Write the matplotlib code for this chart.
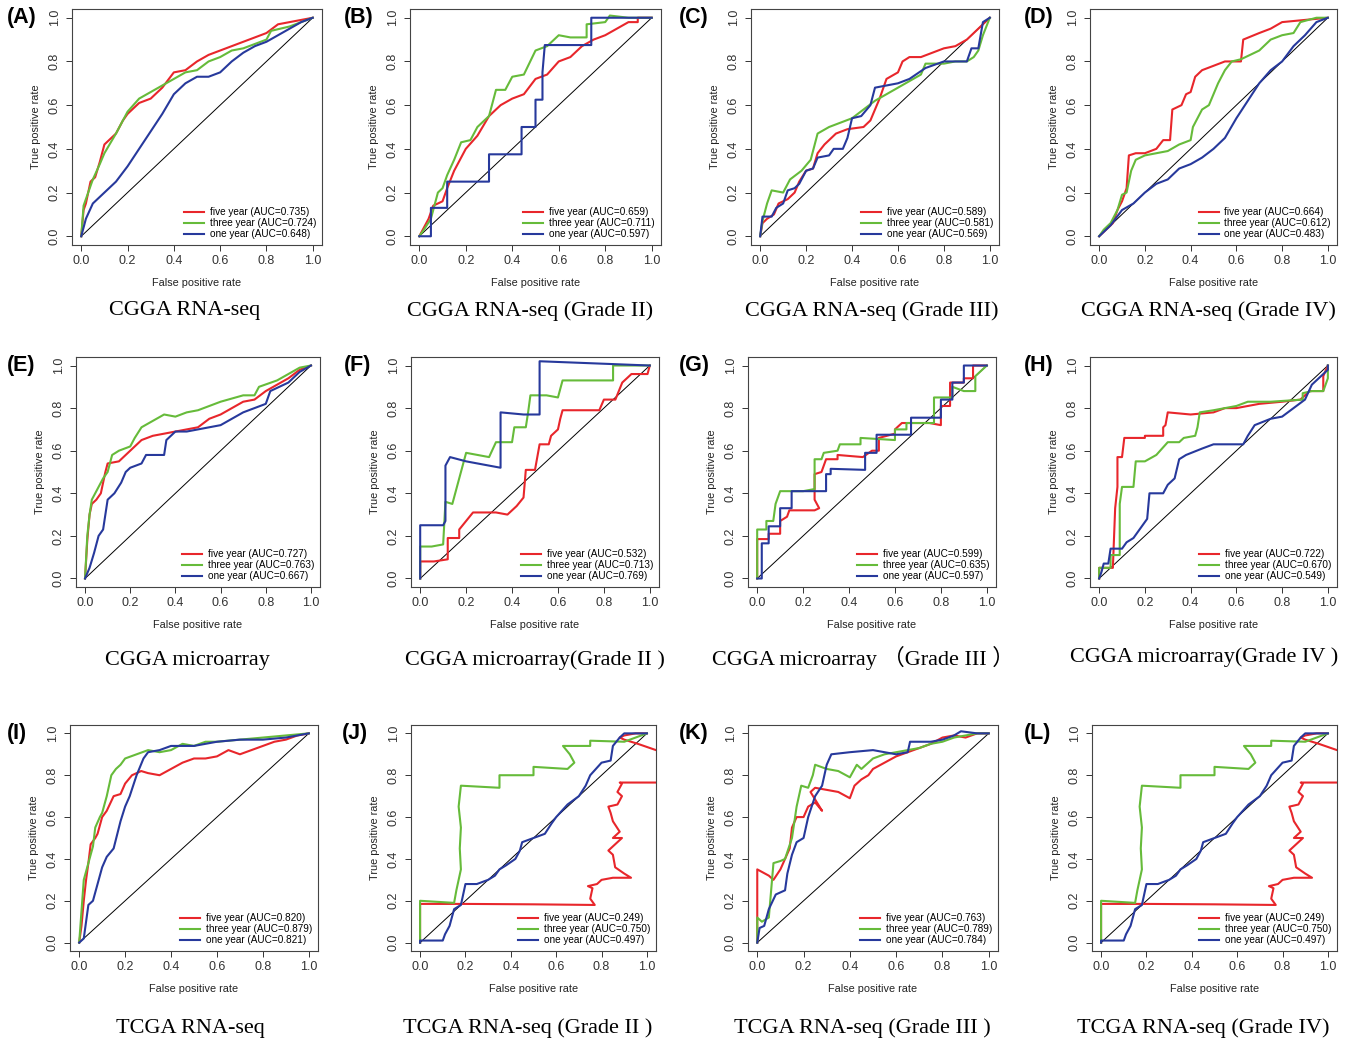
import matplotlib
matplotlib.use("Agg")
import matplotlib.pyplot as plt

# ROC curves, (fpr, tpr) points
A_FIVE = [(0,0),(0.01,0.12),(0.02,0.15),(0.04,0.25),(0.06,0.27),(0.08,0.34),(0.1,0.42),(0.12,0.44),(0.15,0.47),(0.18,0.53),(0.2,0.56),(0.25,0.61),(0.3,0.63),(0.35,0.68),(0.4,0.75),(0.45,0.76),(0.5,0.8),(0.55,0.83),(0.6,0.85),(0.65,0.87),(0.7,0.89),(0.75,0.91),(0.8,0.93),(0.85,0.97),(0.9,0.98),(0.95,0.99),(1,1)]
A_THREE = [(0,0),(0.01,0.14),(0.03,0.2),(0.05,0.26),(0.08,0.33),(0.1,0.38),(0.15,0.47),(0.2,0.57),(0.25,0.63),(0.3,0.66),(0.35,0.69),(0.4,0.72),(0.45,0.75),(0.5,0.76),(0.55,0.8),(0.6,0.82),(0.65,0.85),(0.7,0.86),(0.75,0.88),(0.8,0.9),(0.82,0.94),(0.9,0.96),(1,1)]
A_ONE = [(0,0),(0.02,0.08),(0.05,0.15),(0.08,0.18),(0.1,0.2),(0.15,0.25),(0.2,0.32),(0.25,0.4),(0.3,0.48),(0.35,0.56),(0.4,0.65),(0.45,0.7),(0.5,0.73),(0.55,0.73),(0.6,0.75),(0.65,0.8),(0.7,0.84),(0.75,0.87),(0.8,0.89),(0.85,0.92),(0.9,0.95),(0.95,0.98),(1,1)]

B_FIVE = [(0,0),(0.02,0.04),(0.04,0.08),(0.06,0.14),(0.1,0.16),(0.12,0.22),(0.15,0.3),(0.2,0.4),(0.25,0.46),(0.3,0.55),(0.35,0.6),(0.4,0.63),(0.45,0.65),(0.5,0.72),(0.55,0.74),(0.6,0.8),(0.65,0.82),(0.7,0.87),(0.75,0.9),(0.8,0.92),(0.85,0.95),(0.9,0.98),(0.94,0.98),(0.94,1.0),(1,1)]
B_THREE = [(0,0),(0.02,0.03),(0.05,0.08),(0.08,0.2),(0.1,0.22),(0.12,0.28),(0.15,0.35),(0.18,0.43),(0.22,0.44),(0.25,0.5),(0.3,0.55),(0.33,0.67),(0.37,0.67),(0.4,0.73),(0.45,0.74),(0.5,0.85),(0.55,0.87),(0.6,0.92),(0.65,0.91),(0.72,0.91),(0.72,0.97),(0.8,0.98),(0.82,1.01),(0.9,1.0),(1,1)]
B_ONE = [(0,0),(0.05,0),(0.05,0.13),(0.12,0.13),(0.12,0.25),(0.3,0.25),(0.3,0.375),(0.44,0.375),(0.44,0.5),(0.5,0.5),(0.5,0.625),(0.53,0.625),(0.53,0.75),(0.54,0.875),(0.74,0.875),(0.74,1.0),(1,1)]

C_FIVE = [(0,0),(0.01,0.06),(0.03,0.08),(0.06,0.1),(0.08,0.15),(0.12,0.17),(0.15,0.2),(0.17,0.25),(0.2,0.3),(0.23,0.31),(0.25,0.38),(0.28,0.42),(0.3,0.44),(0.33,0.47),(0.38,0.49),(0.45,0.5),(0.48,0.53),(0.5,0.58),(0.52,0.63),(0.55,0.72),(0.6,0.75),(0.62,0.8),(0.65,0.82),(0.7,0.82),(0.75,0.84),(0.8,0.86),(0.85,0.87),(0.9,0.9),(0.95,0.95),(0.98,0.98),(1,1)]
C_THREE = [(0,0),(0.01,0.07),(0.03,0.15),(0.05,0.21),(0.1,0.2),(0.13,0.26),(0.18,0.3),(0.22,0.35),(0.25,0.47),(0.3,0.5),(0.35,0.52),(0.4,0.54),(0.45,0.58),(0.5,0.62),(0.55,0.65),(0.6,0.68),(0.65,0.71),(0.7,0.74),(0.72,0.79),(0.8,0.79),(0.85,0.8),(0.9,0.8),(0.93,0.82),(0.95,0.85),(0.97,0.92),(1,1)]
C_ONE = [(0,0),(0.01,0.09),(0.05,0.09),(0.07,0.13),(0.1,0.15),(0.12,0.21),(0.15,0.22),(0.17,0.24),(0.2,0.3),(0.23,0.31),(0.25,0.36),(0.3,0.37),(0.32,0.4),(0.36,0.4),(0.38,0.45),(0.4,0.54),(0.44,0.55),(0.48,0.6),(0.5,0.68),(0.55,0.69),(0.6,0.7),(0.65,0.72),(0.72,0.77),(0.8,0.8),(0.9,0.8),(0.92,0.86),(0.95,0.86),(0.97,0.98),(1,1)]

D_FIVE = [(0,0),(0.03,0.03),(0.06,0.06),(0.08,0.12),(0.1,0.16),(0.12,0.22),(0.13,0.37),(0.16,0.38),(0.2,0.38),(0.25,0.4),(0.28,0.44),(0.31,0.44),(0.32,0.58),(0.36,0.6),(0.38,0.65),(0.4,0.66),(0.42,0.73),(0.45,0.76),(0.5,0.78),(0.55,0.8),(0.62,0.8),(0.63,0.9),(0.7,0.93),(0.75,0.95),(0.8,0.98),(0.9,0.99),(1,1)]
D_THREE = [(0,0),(0.02,0.03),(0.05,0.06),(0.08,0.12),(0.1,0.19),(0.12,0.2),(0.14,0.3),(0.16,0.35),(0.2,0.37),(0.25,0.38),(0.3,0.39),(0.35,0.42),(0.4,0.44),(0.41,0.5),(0.45,0.58),(0.48,0.6),(0.5,0.65),(0.52,0.7),(0.55,0.76),(0.58,0.8),(0.62,0.81),(0.7,0.85),(0.75,0.9),(0.8,0.92),(0.85,0.93),(0.88,0.98),(0.95,1.0),(1,1)]
D_ONE = [(0,0),(0.05,0.05),(0.1,0.12),(0.15,0.15),(0.2,0.2),(0.25,0.24),(0.3,0.26),(0.35,0.31),(0.4,0.33),(0.45,0.36),(0.5,0.4),(0.55,0.45),(0.6,0.54),(0.65,0.62),(0.7,0.7),(0.75,0.76),(0.8,0.8),(0.85,0.87),(0.9,0.92),(0.95,0.98),(1,1)]

E_FIVE = [(0,0),(0.01,0.18),(0.02,0.3),(0.03,0.35),(0.05,0.37),(0.07,0.4),(0.09,0.5),(0.1,0.54),(0.15,0.55),(0.2,0.6),(0.25,0.65),(0.3,0.67),(0.35,0.68),(0.4,0.69),(0.5,0.71),(0.55,0.75),(0.6,0.77),(0.65,0.8),(0.7,0.83),(0.75,0.84),(0.8,0.88),(0.85,0.91),(0.9,0.94),(0.95,0.98),(1,1)]
E_THREE = [(0,0),(0.01,0.2),(0.02,0.3),(0.03,0.37),(0.05,0.41),(0.08,0.47),(0.1,0.5),(0.12,0.58),(0.15,0.6),(0.2,0.62),(0.22,0.66),(0.25,0.71),(0.3,0.74),(0.35,0.77),(0.4,0.76),(0.45,0.78),(0.5,0.79),(0.55,0.81),(0.6,0.83),(0.7,0.86),(0.75,0.86),(0.77,0.9),(0.85,0.93),(0.9,0.96),(0.95,0.99),(1,1)]
E_ONE = [(0,0),(0.02,0.05),(0.04,0.12),(0.06,0.2),(0.08,0.23),(0.1,0.37),(0.13,0.4),(0.16,0.45),(0.18,0.5),(0.2,0.52),(0.25,0.54),(0.27,0.58),(0.35,0.58),(0.36,0.65),(0.4,0.69),(0.45,0.69),(0.5,0.7),(0.6,0.72),(0.7,0.78),(0.8,0.82),(0.82,0.88),(0.9,0.92),(0.95,0.97),(1,1)]

F_FIVE = [(0,0),(0,0.08),(0.06,0.08),(0.12,0.09),(0.12,0.19),(0.17,0.19),(0.17,0.23),(0.2,0.27),(0.23,0.31),(0.33,0.31),(0.38,0.3),(0.42,0.34),(0.45,0.38),(0.46,0.51),(0.5,0.51),(0.52,0.63),(0.56,0.63),(0.57,0.67),(0.6,0.7),(0.61,0.75),(0.62,0.79),(0.78,0.79),(0.8,0.84),(0.85,0.84),(0.88,0.92),(0.92,0.96),(0.99,0.96),(1,1)]
F_THREE = [(0,0),(0,0.15),(0.05,0.15),(0.1,0.16),(0.11,0.36),(0.14,0.35),(0.16,0.43),(0.18,0.51),(0.2,0.59),(0.3,0.57),(0.33,0.64),(0.4,0.64),(0.41,0.71),(0.46,0.71),(0.47,0.78),(0.48,0.86),(0.55,0.86),(0.6,0.85),(0.62,0.93),(0.84,0.93),(0.84,1.0),(1,1)]
F_ONE = [(0,0),(0,0.25),(0.1,0.25),(0.11,0.27),(0.11,0.53),(0.13,0.57),(0.2,0.55),(0.3,0.53),(0.35,0.52),(0.35,0.78),(0.45,0.77),(0.52,0.77),(0.52,1.02),(1,1)]

G_FIVE = [(0,0),(0,0.185),(0.05,0.185),(0.05,0.21),(0.1,0.21),(0.1,0.27),(0.13,0.29),(0.14,0.32),(0.25,0.32),(0.27,0.33),(0.25,0.37),(0.25,0.49),(0.28,0.5),(0.3,0.56),(0.35,0.56),(0.35,0.58),(0.46,0.57),(0.5,0.6),(0.53,0.6),(0.53,0.66),(0.6,0.68),(0.6,0.7),(0.63,0.73),(0.75,0.73),(0.8,0.72),(0.8,0.81),(0.84,0.81),(0.84,0.92),(0.9,0.92),(0.9,0.94),(0.94,0.94),(0.94,1.0),(1,1)]
G_THREE = [(0,0),(0,0.23),(0.04,0.23),(0.04,0.27),(0.07,0.27),(0.08,0.35),(0.1,0.41),(0.2,0.41),(0.25,0.42),(0.25,0.56),(0.28,0.56),(0.29,0.59),(0.35,0.6),(0.36,0.63),(0.45,0.63),(0.45,0.66),(0.6,0.65),(0.6,0.7),(0.65,0.7),(0.65,0.73),(0.77,0.73),(0.77,0.85),(0.85,0.85),(0.85,0.9),(0.9,0.88),(0.95,0.88),(0.95,0.95),(1,1)]
G_ONE = [(0,0),(0.02,0),(0.02,0.165),(0.05,0.165),(0.05,0.245),(0.1,0.245),(0.1,0.33),(0.15,0.33),(0.15,0.41),(0.3,0.41),(0.3,0.49),(0.32,0.49),(0.32,0.515),(0.47,0.51),(0.47,0.59),(0.52,0.59),(0.52,0.675),(0.67,0.675),(0.67,0.755),(0.8,0.755),(0.8,0.84),(0.85,0.84),(0.85,0.92),(0.9,0.92),(0.9,1.0),(1,1)]

H_FIVE = [(0,0),(0,0.05),(0.06,0.05),(0.07,0.33),(0.08,0.43),(0.08,0.57),(0.1,0.57),(0.11,0.66),(0.2,0.66),(0.2,0.67),(0.28,0.67),(0.28,0.71),(0.29,0.72),(0.3,0.78),(0.4,0.77),(0.5,0.78),(0.55,0.8),(0.6,0.8),(0.7,0.82),(0.8,0.83),(0.88,0.84),(0.92,0.88),(0.98,0.88),(0.98,0.95),(1,1)]
H_THREE = [(0,0),(0,0.05),(0.05,0.05),(0.05,0.11),(0.09,0.11),(0.09,0.35),(0.1,0.43),(0.15,0.43),(0.16,0.55),(0.2,0.55),(0.25,0.58),(0.3,0.64),(0.35,0.64),(0.37,0.66),(0.42,0.67),(0.43,0.71),(0.44,0.78),(0.5,0.79),(0.6,0.81),(0.65,0.83),(0.75,0.83),(0.89,0.84),(0.89,0.87),(0.93,0.88),(0.98,0.88),(1,0.94),(1,1)]
H_ONE = [(0,0),(0.01,0.03),(0.02,0.07),(0.04,0.07),(0.05,0.14),(0.1,0.14),(0.12,0.17),(0.15,0.19),(0.17,0.22),(0.19,0.25),(0.21,0.28),(0.22,0.4),(0.28,0.4),(0.3,0.44),(0.33,0.47),(0.35,0.56),(0.38,0.58),(0.45,0.61),(0.5,0.63),(0.63,0.63),(0.65,0.67),(0.68,0.72),(0.75,0.75),(0.8,0.76),(0.85,0.8),(0.9,0.84),(0.93,0.91),(0.97,0.95),(1,0.98),(1,1)]

I_FIVE = [(0,0),(0.01,0.08),(0.02,0.2),(0.03,0.3),(0.04,0.38),(0.05,0.47),(0.07,0.5),(0.08,0.52),(0.1,0.6),(0.12,0.63),(0.15,0.7),(0.18,0.71),(0.2,0.76),(0.23,0.8),(0.27,0.82),(0.3,0.81),(0.35,0.8),(0.4,0.83),(0.45,0.86),(0.5,0.88),(0.55,0.88),(0.6,0.89),(0.65,0.92),(0.7,0.9),(0.75,0.92),(0.8,0.94),(0.85,0.96),(0.9,0.97),(0.95,0.99),(1,1)]
I_THREE = [(0,0),(0.01,0.15),(0.02,0.3),(0.04,0.38),(0.06,0.46),(0.07,0.55),(0.09,0.6),(0.1,0.62),(0.12,0.7),(0.14,0.8),(0.16,0.83),(0.18,0.85),(0.2,0.88),(0.25,0.9),(0.3,0.92),(0.35,0.91),(0.4,0.92),(0.45,0.95),(0.5,0.94),(0.55,0.96),(0.6,0.96),(0.7,0.97),(0.8,0.98),(0.9,0.99),(1,1)]
I_ONE = [(0,0),(0.02,0.02),(0.03,0.1),(0.04,0.18),(0.06,0.2),(0.08,0.28),(0.1,0.36),(0.12,0.41),(0.15,0.45),(0.18,0.58),(0.2,0.65),(0.22,0.7),(0.25,0.8),(0.28,0.88),(0.3,0.91),(0.35,0.92),(0.4,0.94),(0.5,0.94),(0.6,0.96),(0.7,0.97),(0.8,0.97),(0.9,0.98),(1,1)]

# grade II and grade IV of TCGA show the same curves
J_FIVE = [(0,0),(0,0.185),(0.2,0.185),(0.5,0.183),(0.77,0.18),(0.75,0.21),(0.76,0.26),(0.74,0.27),(0.78,0.28),(0.8,0.3),(0.85,0.31),(0.93,0.31),(0.9,0.33),(0.86,0.36),(0.85,0.42),(0.83,0.44),(0.86,0.47),(0.89,0.5),(0.85,0.5),(0.88,0.53),(0.85,0.58),(0.84,0.62),(0.83,0.65),(0.87,0.66),(0.89,0.7),(0.87,0.72),(0.89,0.76),(0.88,0.765),(1.2,0.765),(1.2,0.9),(1.04,0.92),(0.96,0.95),(0.9,0.97),(0.88,0.98),(0.9,0.99),(0.95,1.0),(1,1)]
J_THREE = [(0,0),(0,0.2),(0.15,0.19),(0.16,0.25),(0.17,0.3),(0.18,0.35),(0.175,0.45),(0.18,0.55),(0.17,0.65),(0.18,0.75),(0.35,0.74),(0.35,0.8),(0.5,0.8),(0.5,0.84),(0.65,0.83),(0.68,0.86),(0.66,0.9),(0.63,0.94),(0.75,0.94),(0.75,0.965),(0.9,0.96),(0.95,0.98),(1,1)]
J_ONE = [(0,0),(0,0.01),(0.1,0.01),(0.11,0.04),(0.13,0.08),(0.14,0.12),(0.15,0.16),(0.18,0.18),(0.2,0.28),(0.25,0.28),(0.3,0.3),(0.33,0.32),(0.35,0.35),(0.38,0.37),(0.42,0.4),(0.44,0.44),(0.45,0.48),(0.5,0.5),(0.55,0.52),(0.58,0.57),(0.6,0.6),(0.65,0.66),(0.7,0.7),(0.73,0.75),(0.75,0.8),(0.8,0.86),(0.84,0.87),(0.85,0.94),(0.88,0.98),(0.9,1.0),(1,1)]

K_FIVE = [(0,0),(0,0.35),(0.05,0.32),(0.07,0.3),(0.1,0.35),(0.12,0.4),(0.14,0.45),(0.15,0.55),(0.17,0.6),(0.2,0.6),(0.22,0.65),(0.25,0.67),(0.28,0.63),(0.23,0.72),(0.25,0.74),(0.3,0.73),(0.35,0.72),(0.4,0.69),(0.42,0.75),(0.45,0.78),(0.48,0.8),(0.5,0.83),(0.55,0.86),(0.6,0.89),(0.65,0.91),(0.7,0.93),(0.75,0.95),(0.8,0.98),(0.85,0.99),(0.9,0.98),(0.95,1.0),(1,1)]
K_THREE = [(0,0),(0,0.12),(0.02,0.1),(0.05,0.12),(0.06,0.25),(0.07,0.38),(0.1,0.39),(0.12,0.4),(0.15,0.5),(0.17,0.65),(0.19,0.75),(0.22,0.74),(0.24,0.8),(0.25,0.85),(0.3,0.83),(0.35,0.82),(0.4,0.79),(0.43,0.85),(0.45,0.83),(0.5,0.88),(0.55,0.9),(0.6,0.91),(0.7,0.93),(0.75,0.95),(0.8,0.96),(0.85,0.98),(0.9,0.99),(0.95,1.0),(1,1)]
K_ONE = [(0,0),(0.01,0.07),(0.03,0.08),(0.05,0.16),(0.08,0.23),(0.12,0.25),(0.13,0.33),(0.15,0.42),(0.17,0.48),(0.2,0.5),(0.22,0.6),(0.25,0.7),(0.28,0.75),(0.3,0.85),(0.32,0.9),(0.4,0.91),(0.5,0.92),(0.6,0.9),(0.65,0.91),(0.66,0.96),(0.75,0.96),(0.8,0.97),(0.85,0.99),(0.88,1.01),(0.95,1.0),(1,1)]

letters = ["A", "B", "C", "D", "E", "F", "G", "H", "I", "J", "K", "L"]
titles = ["CGGA RNA-seq", "CGGA RNA-seq (Grade II)", "CGGA RNA-seq (Grade III)", "CGGA RNA-seq (Grade IV)",
          "CGGA microarray", "CGGA microarray(Grade II )", "CGGA microarray \uff08Grade III \uff09", "CGGA microarray(Grade IV )",
          "TCGA RNA-seq", "TCGA RNA-seq (Grade II )", "TCGA RNA-seq (Grade III )", "TCGA RNA-seq (Grade IV)"]
auc_five = [0.735, 0.659, 0.589, 0.664, 0.727, 0.532, 0.599, 0.722, 0.820, 0.249, 0.763, 0.249]
auc_three = [0.724, 0.711, 0.581, 0.612, 0.763, 0.713, 0.635, 0.670, 0.879, 0.750, 0.789, 0.750]
auc_one = [0.648, 0.597, 0.569, 0.483, 0.667, 0.769, 0.597, 0.549, 0.821, 0.497, 0.784, 0.497]
five_curves = [A_FIVE, B_FIVE, C_FIVE, D_FIVE, E_FIVE, F_FIVE, G_FIVE, H_FIVE, I_FIVE, J_FIVE, K_FIVE, J_FIVE]
three_curves = [A_THREE, B_THREE, C_THREE, D_THREE, E_THREE, F_THREE, G_THREE, H_THREE, I_THREE, J_THREE, K_THREE, J_THREE]
one_curves = [A_ONE, B_ONE, C_ONE, D_ONE, E_ONE, F_ONE, G_ONE, H_ONE, I_ONE, J_ONE, K_ONE, J_ONE]

W, H = 1354, 1042
RED, GREEN, BLUE = "#e8262b", "#66bb3a", "#27399c"

# frame boxes in pixels: left, width per panel; top, bottom per row
frame_x = [(72, 250), (410, 251), (751, 248), (1090, 247),
           (76, 244), (411, 248), (748, 248), (1090, 247),
           (70, 248), (411, 245), (748, 250), (1092, 245)]
frame_y = [(9, 245), (357, 587), (725, 951)]
title_pos = [(185, 311), (530, 311), (872, 311), (1208, 311),
             (187, 660), (535, 660), (863, 658), (1204, 657),
             (190, 1028), (528, 1028), (862, 1028), (1203, 1028)]
letter_x = [7, 344, 679, 1024, 7, 344, 679, 1024, 7, 342, 679, 1024]
letter_y = [18, 366, 733]

plt.rcParams['font.family'] = ['Liberation Sans', 'DejaVu Sans']
fig = plt.figure(figsize=(W / 100, H / 100), dpi=100)

for i in range(12):
    row = i // 4
    left, width = frame_x[i]
    top, bottom = frame_y[row]
    ax = fig.add_axes([left / W, 1 - bottom / H, width / W, (bottom - top) / H])
    ax.plot([0, 1], [0, 1], color="black", lw=0.7)
    for pts, col, name, auc in [(five_curves[i], RED, "five year", auc_five[i]),
                                (three_curves[i], GREEN, "three year", auc_three[i]),
                                (one_curves[i], BLUE, "one year", auc_one[i])]:
        xs = [p[0] for p in pts]
        ys = [p[1] for p in pts]
        ax.plot(xs, ys, color=col, lw=1.5, label="%s (AUC=%.3f)" % (name, auc))
    ax.set_xlim(-0.04, 1.04)
    ax.set_ylim(-0.04, 1.04)
    ticks = [0.0, 0.2, 0.4, 0.6, 0.8, 1.0]
    ax.set_xticks(ticks)
    ax.set_yticks(ticks)
    ax.set_xticklabels(["%.1f" % t for t in ticks], fontsize=9, color="#333333")
    ax.set_yticklabels(["%.1f" % t for t in ticks], fontsize=9, color="#333333",
                       rotation=90, va="center")
    ax.tick_params(length=4, width=0.7, colors="#333333", pad=3)
    ax.tick_params(axis="y", pad=4)
    for s in ax.spines.values():
        s.set_linewidth(0.8)
        s.set_color("#444444")
    ax.set_xlabel("False positive rate", fontsize=7.8, labelpad=8, color="#222222")
    ax.set_ylabel("True positive rate", fontsize=7.8, labelpad=6, color="#222222")
    ax.legend(loc="lower right", frameon=False, fontsize=7.2, handlelength=2.0,
              handletextpad=0.6, labelspacing=0.1, borderaxespad=0.4, borderpad=0.2)

    tx, ty = title_pos[i]
    fig.text(tx / W, 1 - ty / H, titles[i], ha="center", va="center", fontsize=16,
             family=["Liberation Serif", "Noto Sans CJK SC"])
    fig.text(letter_x[i] / W, 1 - letter_y[row] / H, "(%s)" % letters[i], ha="left",
             va="center", fontsize=15.5, fontweight="bold")

fig.savefig("out.png", dpi=100)
